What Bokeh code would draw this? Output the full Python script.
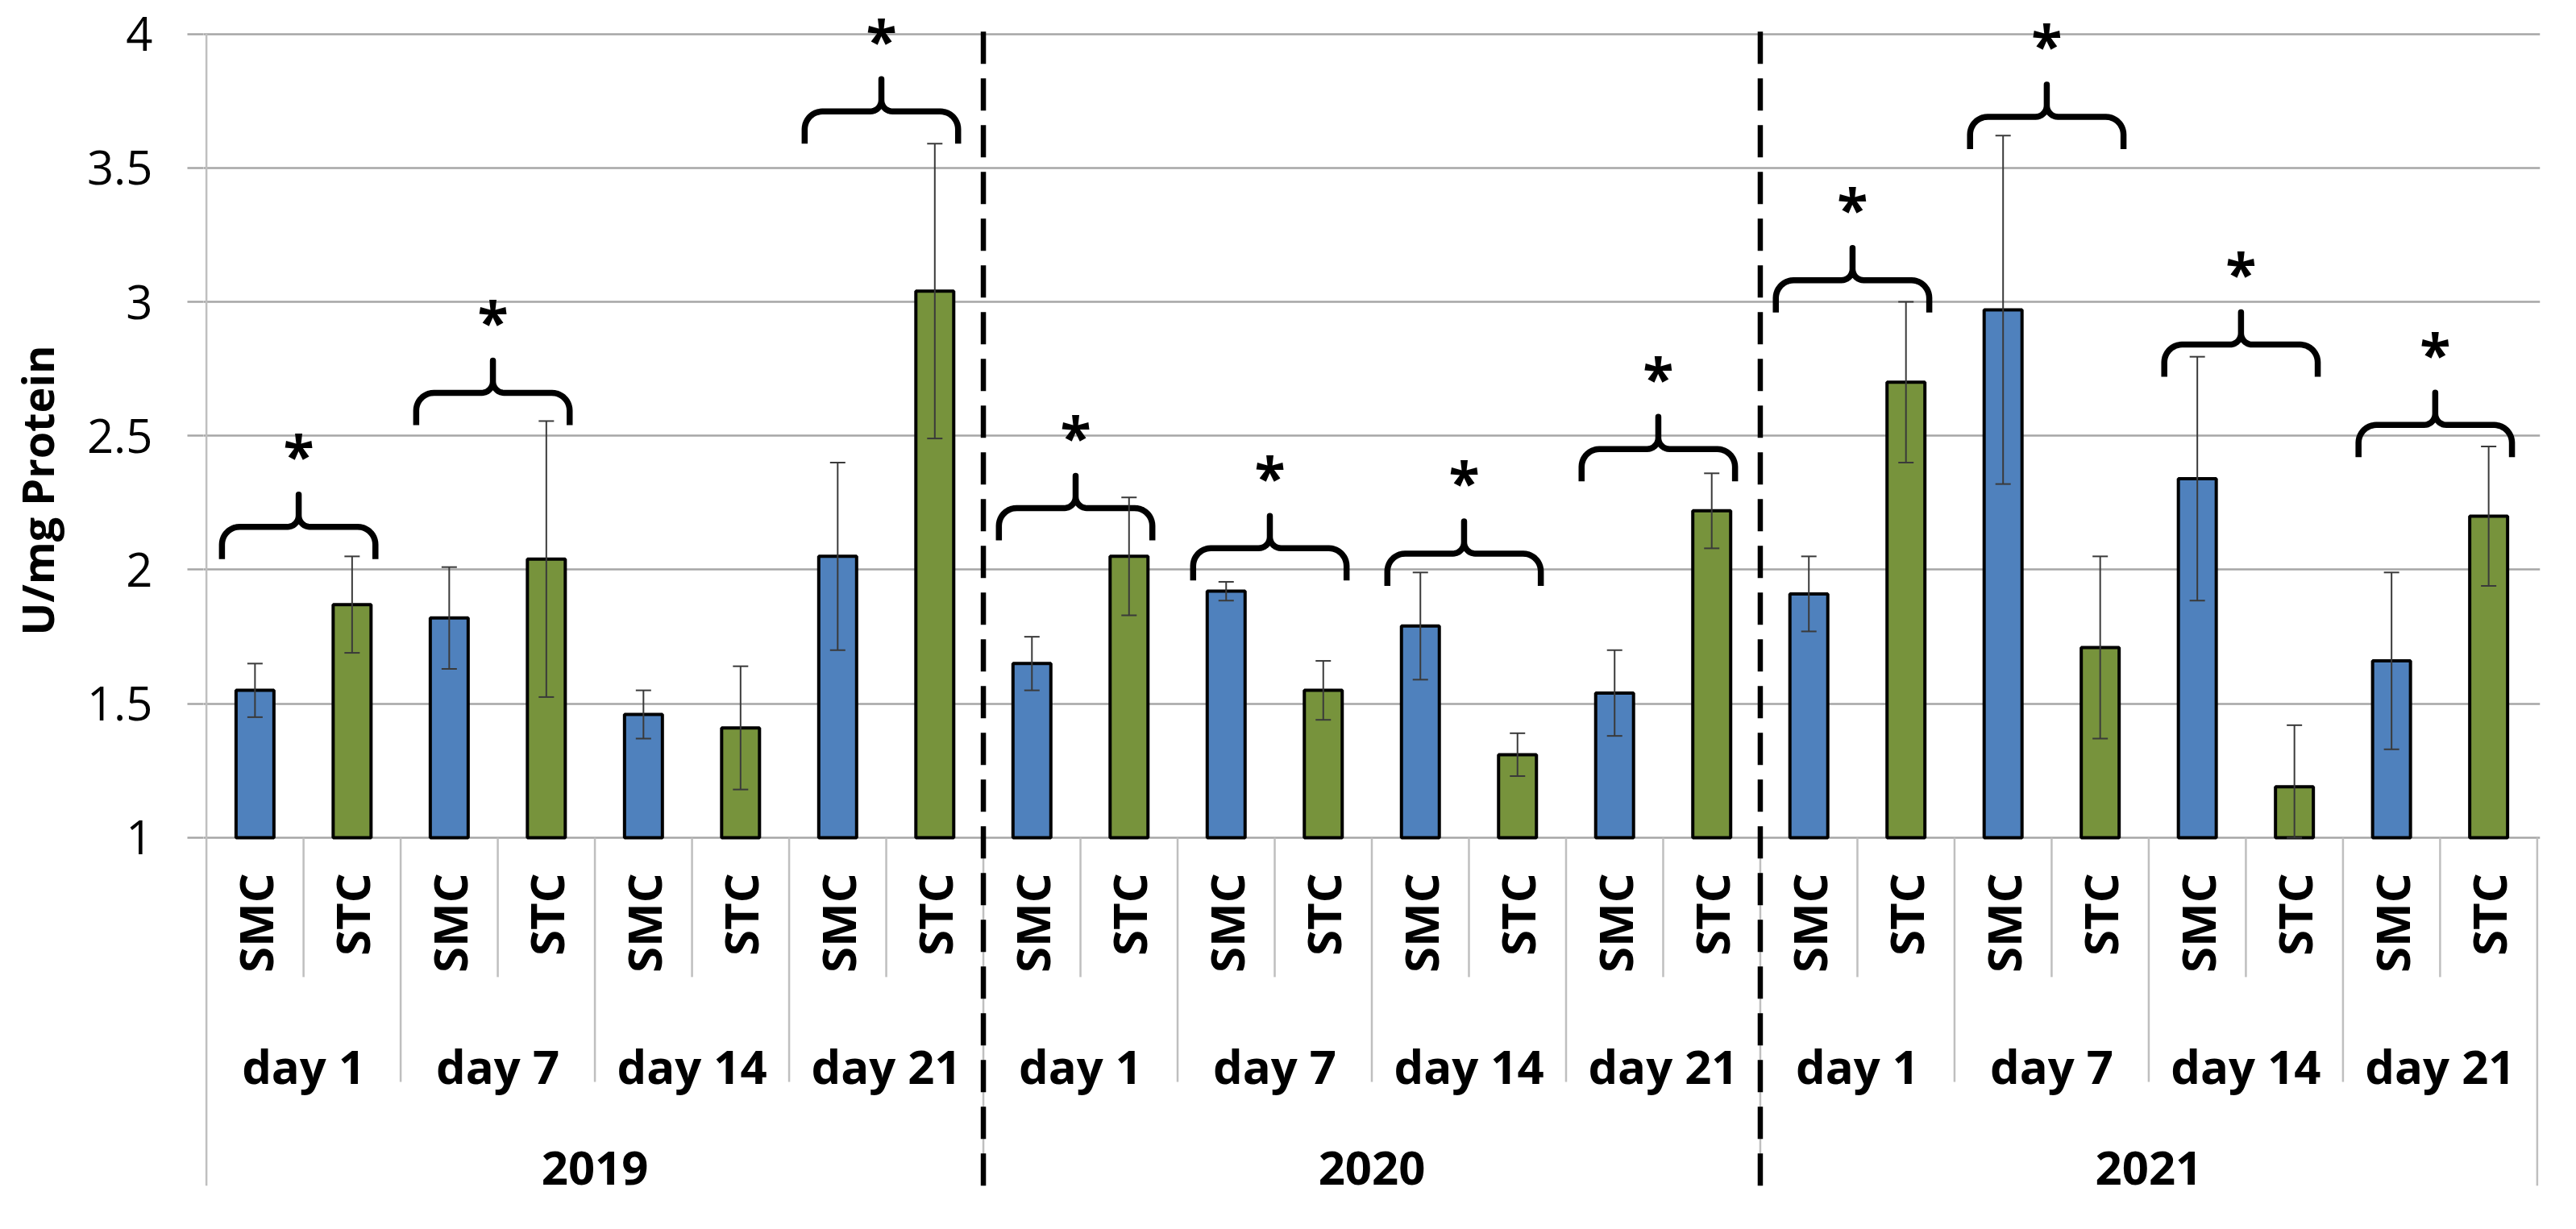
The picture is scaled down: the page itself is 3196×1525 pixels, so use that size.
import numpy as np
from bokeh.plotting import figure
from bokeh.layouts import row
from bokeh.models import (FactorRange, Range1d, ColumnDataSource, FixedTicker,
                          Whisker, TeeHead)
from bokeh.core.properties import value
from bokeh.embed import file_html
from bokeh.resources import INLINE

# ---------------- data ----------------
years = ["2019", "2020", "2021"]
days = ["day 1", "day 7", "day 14", "day 21"]
groups = ["SMC", "STC"]

# one value per (year, day): 2019 d1..d21, 2020 d1..d21, 2021 d1..d21
smc_mean = [1.55, 1.82, 1.46, 2.05, 1.65, 1.92, 1.79, 1.54, 1.91, 2.97, 2.34, 1.66]
smc_err = [0.10, 0.19, 0.09, 0.35, 0.10, 0.035, 0.20, 0.16, 0.14, 0.65, 0.455, 0.33]
stc_mean = [1.87, 2.04, 1.41, 3.04, 2.05, 1.55, 1.31, 2.22, 2.70, 1.71, 1.19, 2.20]
stc_err = [0.18, 0.515, 0.23, 0.55, 0.22, 0.11, 0.08, 0.14, 0.30, 0.34, 0.23, 0.26]

# bottom of the significance brace for each (year, day) pair; None = no brace
brace_base = [2.04, 2.54, None, 3.59, 2.11, 1.96, 1.94, 2.33, 2.96, 3.57, 2.72, 2.42]
sig_mark = "*"

y_ticks = [1, 1.5, 2, 2.5, 3, 3.5, 4]
y_tick_labels = ["1", "1.5", "2", "2.5", "3", "3.5", "4"]
y_title = "U/mg Protein"

# ---------------- style ----------------
BLUE = "#4F81BD"
GREEN = "#77933C"
GRID = "#A6A6A6"
SEP = "#BFBFBF"
FONT = "Open Sans"
PX = 120.5    # px per category
PY = 332.5    # px per y unit

Y_AXIS_MIN = 1.0
Y_INNER = 0.868      # top end of rotated SMC/STC labels
Y_DAY = 0.149        # baseline of day labels
Y_YEAR = -0.233      # baseline of year labels
Y_SEP_GROUP = 0.48
Y_SEP_DAY = 0.089
Y_SEP_OUTER = -0.2985
Y_DASH_TOP = 4.035

SIDE_W = 100
TOP = 4
FRAME_H = 1471
BOTTOM = 16
CANVAS_H = TOP + FRAME_H + BOTTOM

# ---------------- build ----------------
factors = [(y, d, g) for y in years for d in days for g in groups]
pairs = [(y, d) for y in years for d in days]

means, errs, colors = [], [], []
for i in range(len(pairs)):
    means += [smc_mean[i], stc_mean[i]]
    errs += [smc_err[i], stc_err[i]]
    colors += [BLUE, GREEN]
upper = [m + e for m, e in zip(means, errs)]
lower = [max(m - e, Y_AXIS_MIN) for m, e in zip(means, errs)]

src = ColumnDataSource(dict(x=factors, top=means, upper=upper, lower=lower, color=colors))

x_range = FactorRange(factors=factors, factor_padding=0, subgroup_padding=0,
                      group_padding=0, range_padding=0.03,
                      range_padding_units="absolute")
y_range = Range1d(-0.3113, 4.1128)

p = figure(x_range=x_range, y_range=y_range, frame_width=2899, frame_height=FRAME_H,
           min_border_left=252 - SIDE_W, min_border_right=20, min_border_top=TOP,
           min_border_bottom=BOTTOM, output_backend="svg", toolbar_location=None,
           x_axis_location=None, title=None)
p.outline_line_color = None
p.background_fill_color = "white"
p.border_fill_color = "white"

for g in p.xgrid:
    g.grid_line_color = None
for g in p.ygrid:
    g.ticker = FixedTicker(ticks=y_ticks)
    g.grid_line_color = GRID
    g.grid_line_width = 2.5

yax = p.yaxis[0]
yax.ticker = FixedTicker(ticks=y_ticks)
yax.major_label_overrides = {t: l for t, l in zip(y_ticks, y_tick_labels)}
yax.axis_line_color = None
yax.major_tick_out = 20
yax.major_tick_in = 0
yax.major_tick_line_color = GRID
yax.major_tick_line_width = 2.5
yax.minor_tick_line_color = None
yax.major_label_standoff = 43
yax.major_label_text_font = FONT
yax.major_label_text_font_size = "58px"
yax.major_label_text_color = "black"

# category separators (Excel-style multi-level axis)
n = len(factors)
sx0, sy0, sx1, sy1 = [], [], [], []
for b in range(n + 1):
    if b % 8 == 0:
        ybot = Y_SEP_OUTER
    elif b % 2 == 0:
        ybot = Y_SEP_DAY
    else:
        ybot = Y_SEP_GROUP
    ytop = y_ticks[-1] if b == 0 else Y_AXIS_MIN
    sx0.append(b); sx1.append(b); sy0.append(ytop); sy1.append(ybot)
p.segment(x0=sx0, y0=sy0, x1=sx1, y1=sy1, line_color=SEP, line_width=2.5)

# bars
p.vbar(x="x", top="top", bottom=Y_AXIS_MIN, width=0.39, source=src,
       fill_color="color", line_color="black", line_width=4)

# error bars
ecol = "#3a3a3a"
w = Whisker(source=src, base="x", upper="upper", lower="lower",
            line_color=ecol, line_width=2,
            upper_head=TeeHead(size=19, line_color=ecol, line_width=2),
            lower_head=TeeHead(size=19, line_color=ecol, line_width=2),
            level="annotation")
p.add_layout(w)

# year dividers (dashed)
dx = [b for b in range(8, n, 8)]
p.segment(x0=dx, y0=[Y_SEP_OUTER] * len(dx), x1=dx, y1=[Y_DASH_TOP] * len(dx),
          line_color="black", line_width=6.5, line_dash="40 18")

# category labels
p.text(x=factors, y=[Y_INNER] * n, text=[f[2] for f in factors], angle=np.pi / 2,
       text_align="right", text_baseline="middle", text_font=value(FONT),
       text_font_style="bold", text_font_size="58px", text_color="black")
p.text(x=pairs, y=[Y_DAY] * len(pairs), text=[d for (_, d) in pairs],
       text_align="center", text_baseline="alphabetic", text_font=value(FONT),
       text_font_style="bold", text_font_size="58px", text_color="black")
p.text(x=years, y=[Y_YEAR] * len(years), text=years,
       text_align="center", text_baseline="alphabetic", text_font=value(FONT),
       text_font_style="bold", text_font_size="58px", text_color="black")


# significance braces
def brace_path(xc, yb, half=0.79):
    xL, xR = xc - half, xc + half
    yh = yb + 40 / PY
    yp = yb + 80 / PY
    rx, ry = 22 / PX, 22 / PY
    fx, fy = 14 / PX, 14 / PY
    xs, ys = [xL], [yb]
    a = np.linspace(np.pi, np.pi / 2, 12)
    xs += list(xL + rx + rx * np.cos(a)); ys += list(yh - ry + ry * np.sin(a))
    a = np.linspace(-np.pi / 2, 0, 10)
    xs += list(xc - fx + fx * np.cos(a)); ys += list(yh + fy + fy * np.sin(a))
    xs += [xc]; ys += [yp]
    a = np.linspace(np.pi, 1.5 * np.pi, 10)
    xs += list(xc + fx + fx * np.cos(a)); ys += list(yh + fy + fy * np.sin(a))
    a = np.linspace(np.pi / 2, 0, 12)
    xs += list(xR - rx + rx * np.cos(a)); ys += list(yh - ry + ry * np.sin(a))
    xs += [xR]; ys += [yb]
    return xs, ys


bxs, bys, stx, sty = [], [], [], []
STAR_FS = 70
for i, yb in enumerate(brace_base):
    if yb is None:
        continue
    xc = 2 * i + 1 - 0.05
    xs, ys = brace_path(xc, yb)
    bxs.append(xs); bys.append(ys)
    stx.append(xc)
    sty.append(yb + 170 / PY - 0.575 * STAR_FS / PY)
p.multi_line(xs=bxs, ys=bys, line_color="black", line_width=7.5,
             line_join="round", line_cap="butt")
p.text(x=stx, y=sty, text=[sig_mark] * len(stx), text_align="center",
       text_baseline="alphabetic", text_font=value(FONT), text_font_style="bold",
       text_font_size=f"{STAR_FS}px", text_color="black")

# y-axis title in a narrow side panel (pixel coordinates of that panel)
side = figure(x_range=Range1d(0, SIDE_W), y_range=Range1d(0, CANVAS_H),
              frame_width=SIDE_W, frame_height=CANVAS_H, min_border=0,
              output_backend="svg", toolbar_location=None,
              x_axis_location=None, y_axis_location=None, title=None)
side.outline_line_color = None
side.xgrid.grid_line_color = None
side.ygrid.grid_line_color = None
side.text(x=[45], y=[CANVAS_H - 604], text=[y_title], angle=np.pi / 2,
          text_align="center", text_baseline="middle", text_font=value(FONT),
          text_font_style="bold", text_font_size="54px", text_color="black")

layout = row(side, p)
open("out.html", "w").write(file_html(layout, INLINE))
